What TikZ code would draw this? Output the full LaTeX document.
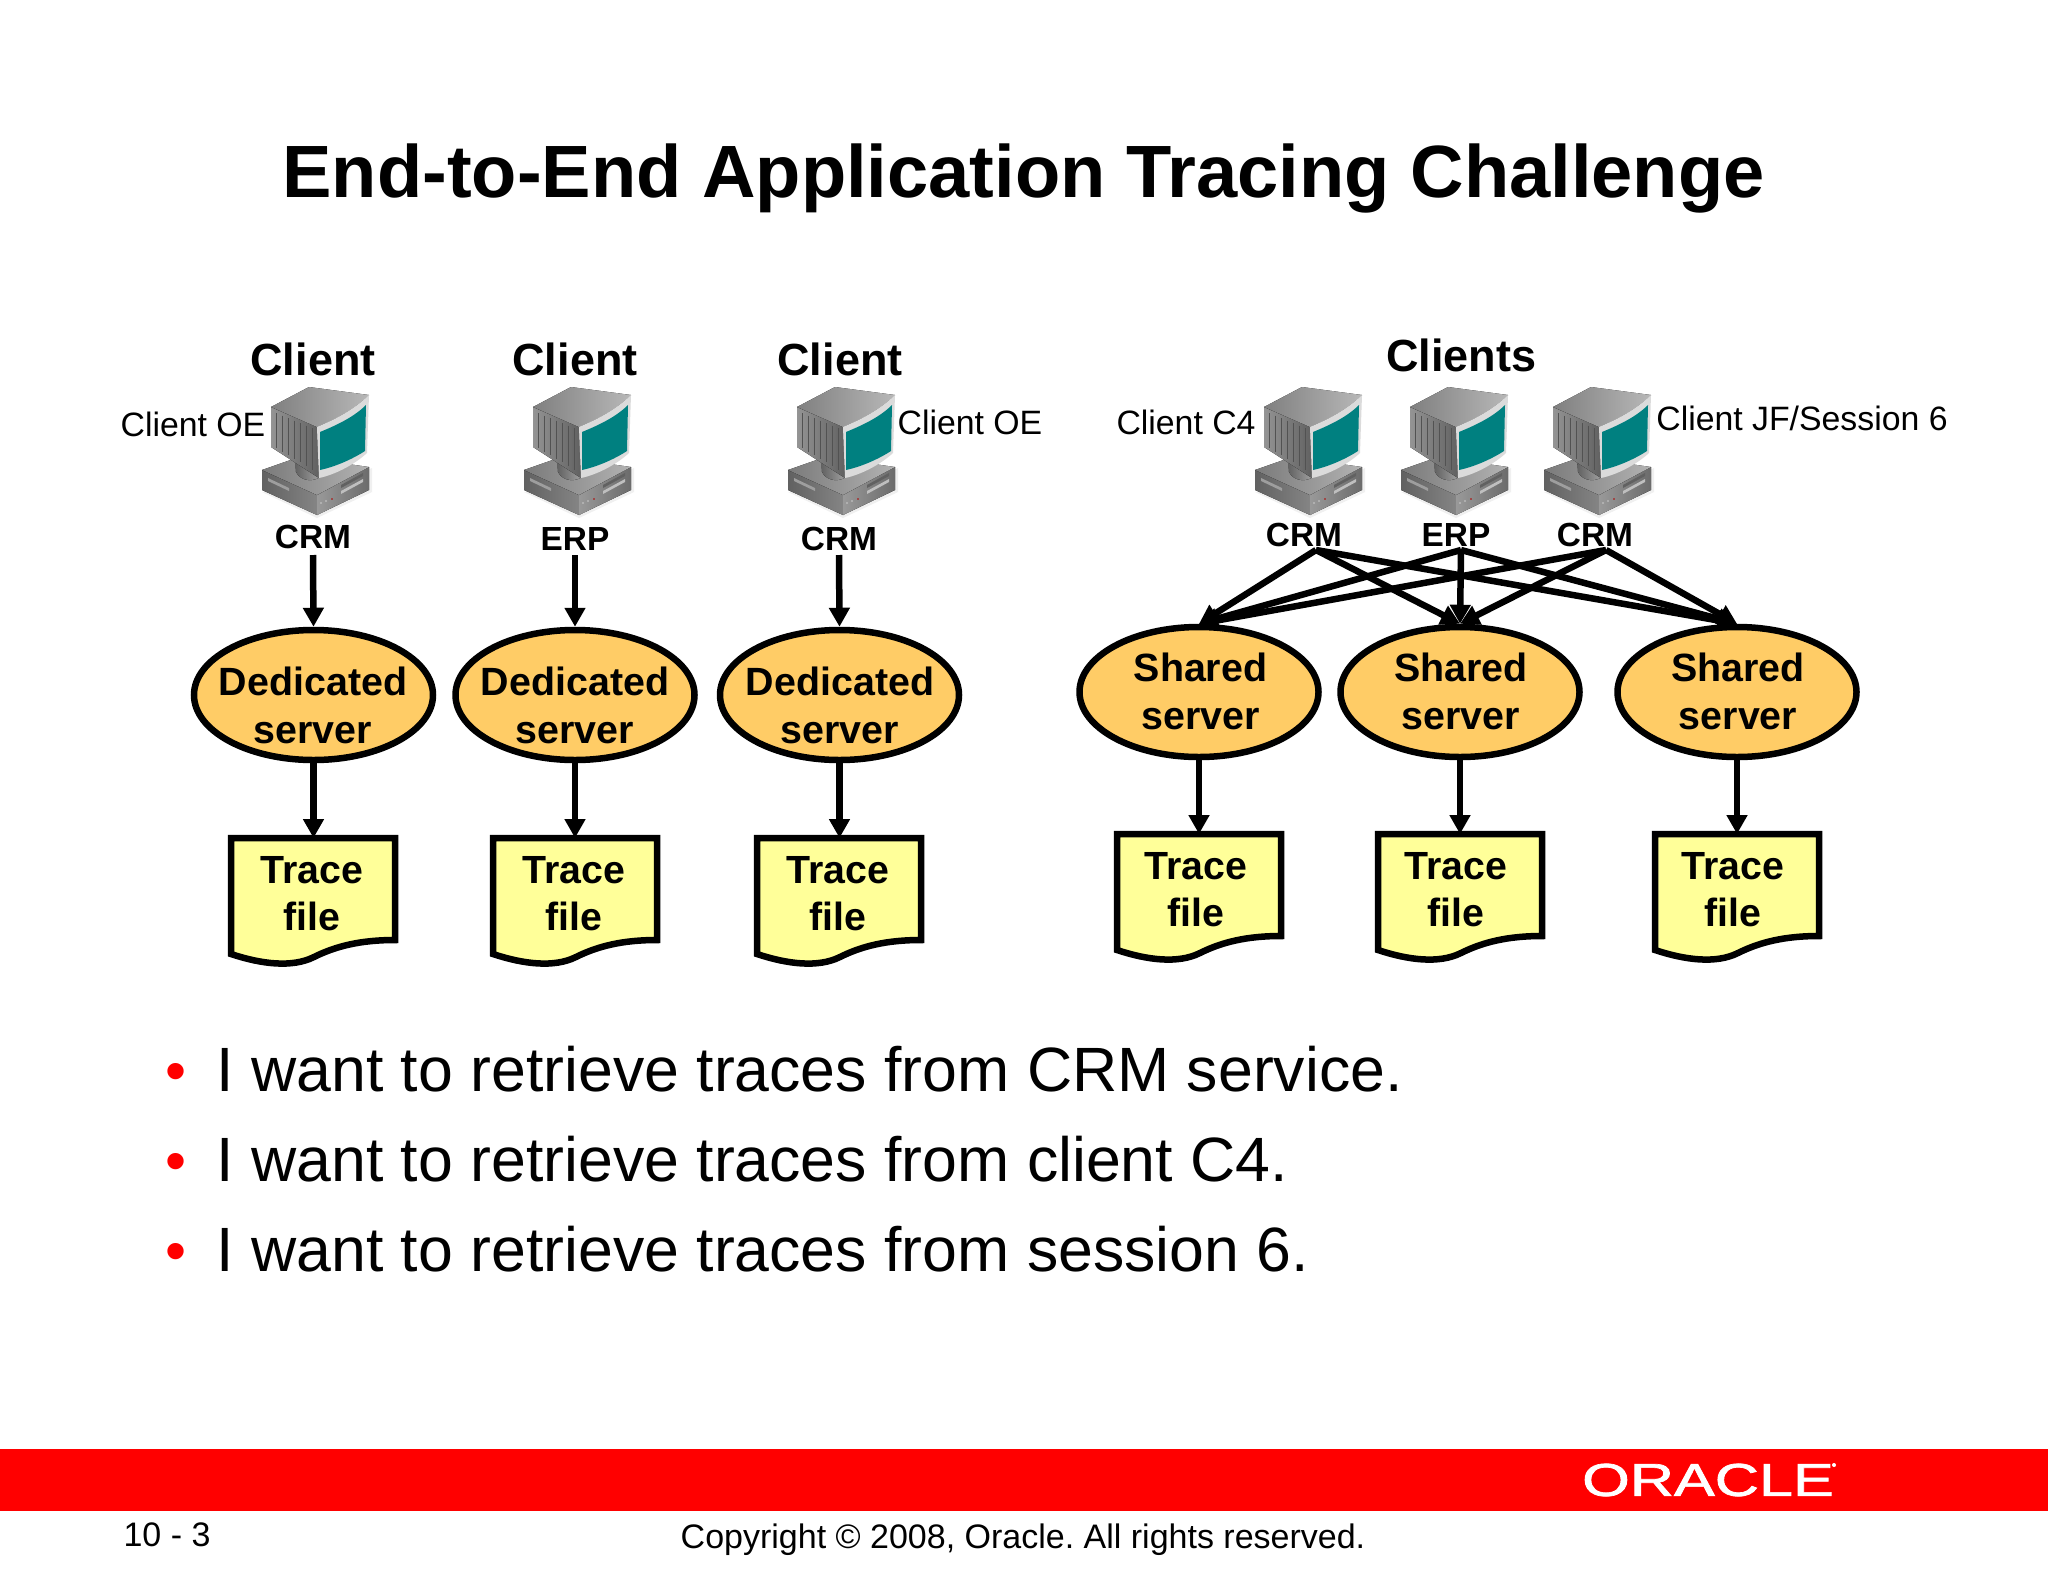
\documentclass[tikz,border=0pt]{standalone}
\usepackage{fontspec}
\setmainfont{Liberation Sans}
\usetikzlibrary{shapes.geometric,arrows.meta}
\definecolor{oraRed}{HTML}{FF0000}
\definecolor{srvFill}{HTML}{FFCC66}
\definecolor{docFill}{HTML}{FFFF99}
\definecolor{scr}{HTML}{008080}
\tikzset{
  x=1pt,y=-1pt,
  titletxt/.style={font=\fontsize{74.1}{80}\bfseries\selectfont},
  headtxt/.style={font=\fontsize{45}{50}\bfseries\selectfont},
  nametxt/.style={font=\fontsize{33.8}{38}\selectfont},
  svctxt/.style={font=\fontsize{33.4}{38}\bfseries\selectfont},
  bullettxt/.style={font=\fontsize{62.6}{66}\selectfont,anchor=base west},
  dotmark/.style={font=\fontsize{60}{66}\selectfont,text=oraRed,anchor=base},
  foottxt/.style={font=\fontsize{34}{38}\selectfont},
  server/.style={ellipse,draw=black,line width=6.5pt,fill=srvFill,minimum width=239pt,minimum height=130pt,inner sep=0pt},
  servertxt/.style={align=center,inner sep=0pt,font=\fontsize{39.4}{48}\bfseries\selectfont},
  docbox/.style={rectangle,minimum width=164pt,minimum height=105pt,inner sep=0pt},
  doctxt/.style={align=center,inner sep=0pt,font=\fontsize{39.3}{47}\bfseries\selectfont},
  docline/.style={draw=black,line width=6.5pt,fill=docFill,miter limit=4},
  flow/.style={draw=black,line width=6.5pt,-{Triangle[width=20pt,length=19pt]}},
  computer/.pic={
    % soft shadow
    \fill[black!6] (-47,42) -- (8,68) -- (63,42) -- (63,18) -- (8,45) -- cycle;
    % base
    \fill[left color=black!62,right color=black!48] (-47,20) -- (8,45) -- (8,65) -- (-47,40) -- cycle;
    \fill[left color=black!40,right color=black!58] (8,45) -- (60,17) -- (60,40) -- (8,65) -- cycle;
    \fill[left color=black!52,right color=black!30] (-47,20) -- (-10,7) -- (60,17) -- (8,45) -- cycle;
    \fill[black!62] (32,35) -- (54,23) -- (54,26) -- (32,38) -- cycle;
    \fill[black!25] (32,41) -- (54,29) -- (54,32) -- (32,44) -- cycle;
    \fill[black!38] (-41,28) -- (-20,38) -- (-20,41) -- (-41,31) -- cycle;
    \fill[red!70!black] (23,49) circle (.9pt);
    \fill[black!20] (12,53) circle (.9pt) (17,51) circle (.9pt);
    % neck
    \fill[left color=black!62,right color=black!35] (-14,8) -- (-13,22) .. controls (-8,32) and (6,32) .. (12,26) -- (12,10) -- cycle;
    % monitor
    \fill[left color=black!42,right color=black!62] (-38,-43) -- (8,-23) -- (10,28) -- (-38,-3) -- cycle;
    \foreach \k in {0,...,6} \draw[black!68,line width=.8pt] (-33+\k*6,-37+\k*2.5) -- (-33+\k*6,-2+\k*3.6);
    \fill[left color=black!50,right color=black!28] (-38,-43) -- (0,-63) -- (60,-55) .. controls (45,-40) and (25,-30) .. (8,-23) -- cycle;
    \fill[black!14] (8,-23) .. controls (25,-30) and (45,-40) .. (60,-55) -- (58,3) .. controls (45,15) and (25,25) .. (10,28) -- cycle;
    \fill[scr] (11,-18) .. controls (28,-25) and (45,-33) .. (57,-45) -- (56,1) .. controls (42,10) and (25,17) .. (11,20) -- cycle;
  },
}
\newcommand{\tracedoc}[4]{% name, left x, top y, text x offset
  \begin{scope}[shift={(#2,#3)}]
    \path[docline] (0,0) -- (164,0) -- (164,102) .. controls (130,102) and (105,108) .. (83,119) .. controls (61,130) and (30,126) .. (0,116) -- cycle;
    \node[docbox,anchor=north west] (#1) at (0,0) {};
    \node[doctxt] (#1txt) at (82+#4,56) {Trace\\file};
  \end{scope}
}
\frenchspacing
\begin{document}
\begin{tikzpicture}
\useasboundingbox (0,0) rectangle (2048,1582);
\fill[white] (0,0) rectangle (2048,1582);

\node[titletxt] (title) at (1023.5,179) {End-to-End Application Tracing Challenge};

% computers
\pic at (309,450) {computer};
\pic at (571,450) {computer};
\pic at (835,450) {computer};
\pic at (1302,450) {computer};
\pic at (1448,450) {computer};
\pic at (1591,450) {computer};

% headings and names
\node[headtxt] (h1) at (313,359) {Client};
\node[headtxt] (h2) at (575,359) {Client};
\node[headtxt] (h3) at (840,359) {Client};
\node[headtxt] (h4) at (1461,355) {Clients};
\node[nametxt] (n1) at (193,424) {Client OE};
\node[nametxt] (n2) at (970,422) {Client OE};
\node[nametxt] (n3) at (1186,422) {Client C4};
\node[nametxt] (n4) at (1802,418) {Client JF/Session 6};

% services
\node[svctxt] (a1) at (313,537) {CRM};
\node[svctxt] (a2) at (575,539) {ERP};
\node[svctxt] (a3) at (839,539) {CRM};
\node[svctxt] (a4) at (1304,535) {CRM};
\node[svctxt] (a5) at (1456,535) {ERP};
\node[svctxt] (a6) at (1595,535) {CRM};
\coordinate (o1) at (313,555);
\coordinate (o2) at (575,555);
\coordinate (o3) at (839,555);
\coordinate (o4) at (1316,550);
\coordinate (o5) at (1461,550);
\coordinate (o6) at (1606,550);

% servers
\node[server] (d1) at (313.5,695) {};
\node[server] (d2) at (575,695) {};
\node[server] (d3) at (839.5,695) {};
\node[server] (s1) at (1199,692) {};
\node[server] (s2) at (1460,692) {};
\node[server] (s3) at (1737,692) {};
\node[servertxt] (d1txt) at (313,705) {Dedicated\\server};
\node[servertxt] (d2txt) at (575,705) {Dedicated\\server};
\node[servertxt] (d3txt) at (840,705) {Dedicated\\server};
\node[servertxt] (s1txt) at (1200.5,691) {Shared\\server};
\node[servertxt] (s2txt) at (1461,691) {Shared\\server};
\node[servertxt] (s3txt) at (1738,691) {Shared\\server};

% trace files
\tracedoc{t1}{231}{838}{-1}
\tracedoc{t2}{493}{838}{-1}
\tracedoc{t3}{757}{838}{-1}
\tracedoc{t4}{1117}{834}{-3}
\tracedoc{t5}{1378}{834}{-4}
\tracedoc{t6}{1655}{834}{-4}

% connectors
\draw[flow] (o1) -- (d1.north);
\draw[flow] (o2) -- (d2.north);
\draw[flow] (o3) -- (d3.north);
\draw[flow] (d1.south) -- (t1.north-|d1.south);
\draw[flow] (d2.south) -- (t2.north-|d2.south);
\draw[flow] (d3.south) -- (t3.north-|d3.south);
\draw[flow] (s1.south) -- (t4.north-|s1.south);
\draw[flow] (s2.south) -- (t5.north-|s2.south);
\draw[flow] (s3.south) -- (t6.north-|s3.south);
\foreach \o in {o4,o5,o6} \foreach \s in {s1,s2,s3}
  \draw[flow] (\o) -- (\s.north);

% bullets
\node[dotmark] (b1) at (176,1091) {•};
\node[dotmark] (b2) at (176,1181) {•};
\node[dotmark] (b3) at (176,1271) {•};
\node[bullettxt] (l1) at (213,1091) {I want to retrieve traces from CRM service.};
\node[bullettxt] (l2) at (213,1181) {I want to retrieve traces from client C4.};
\node[bullettxt] (l3) at (213,1271) {I want to retrieve traces from session 6.};

% footer
\fill[oraRed] (0,1449) rectangle (2048,1511);
\node[font=\fontsize{46}{50}\selectfont\addfontfeature{FakeBold=1.5},text=white,xscale=1.33] (logo) at (1708,1480) {ORACLE};
\fill[white] (1834,1465) circle (2pt);
\node[foottxt,anchor=west] (pg) at (120,1535) {10 - 3};
\node[foottxt] (copy) at (1023,1540) {Copyright © 2008, Oracle. All rights reserved.};
\end{tikzpicture}
\end{document}
